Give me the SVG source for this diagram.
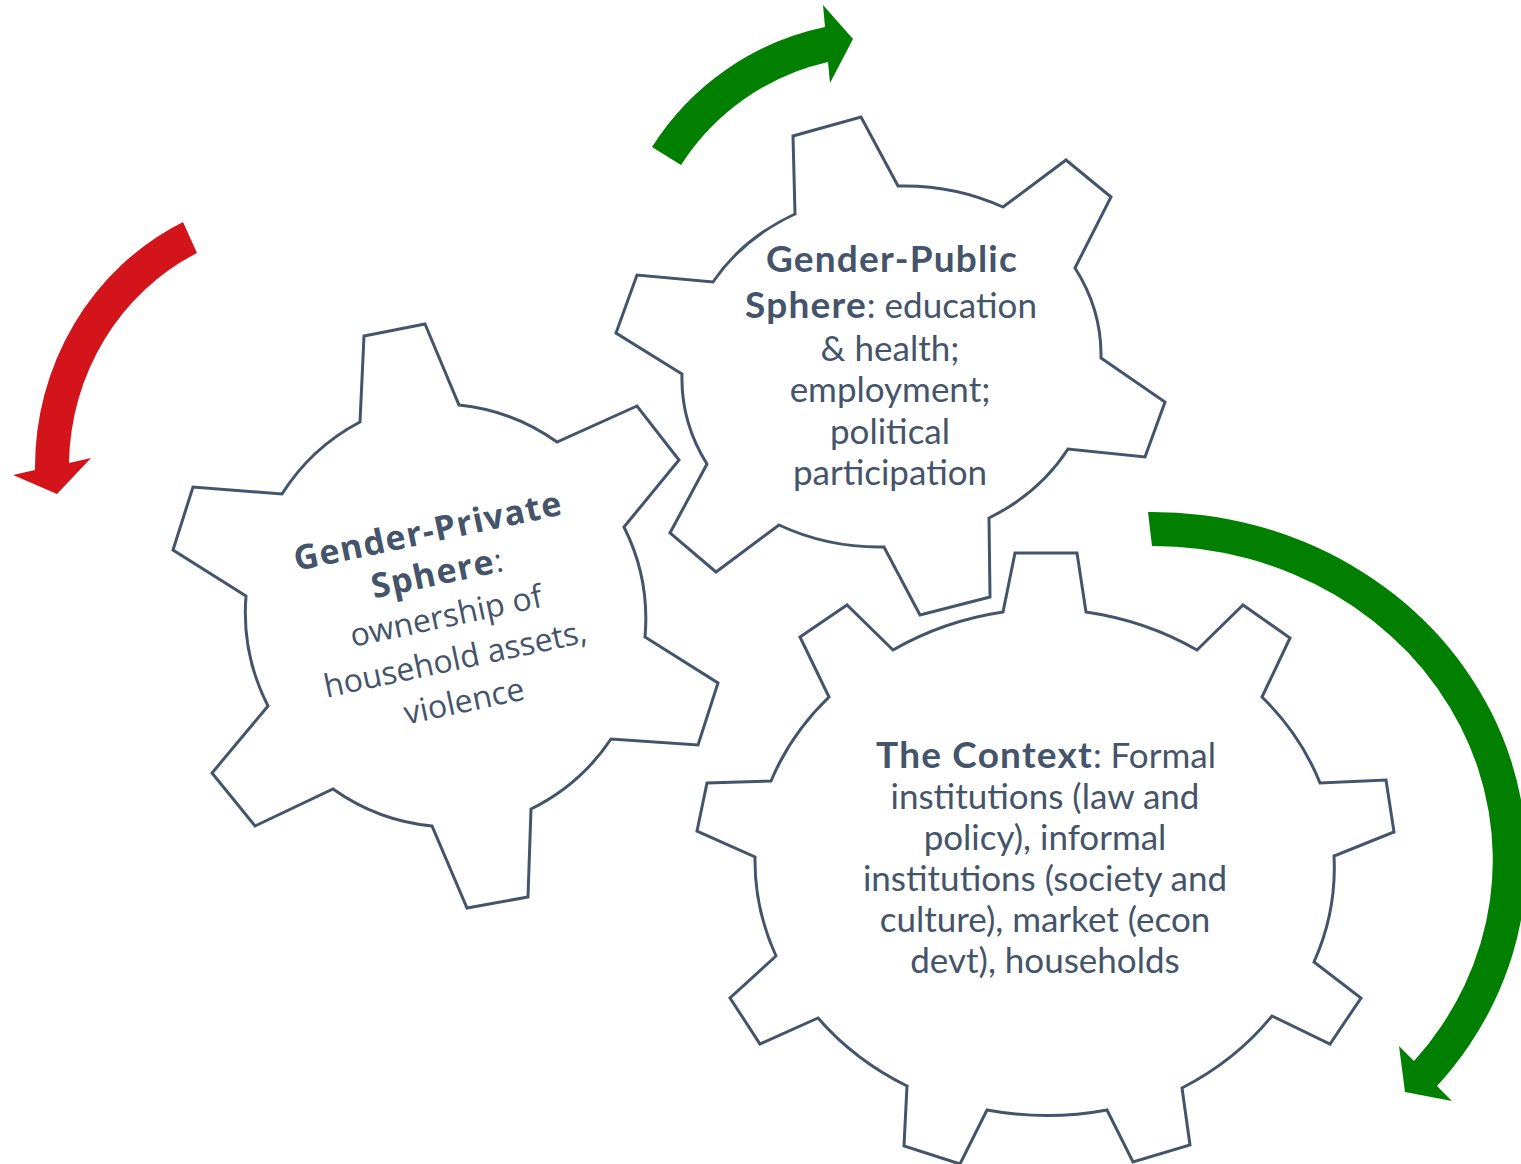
<svg xmlns="http://www.w3.org/2000/svg" width="1521" height="1164" viewBox="0 0 1521 1164">
  <style>
    .gear { fill: #ffffff; stroke: #44546A; stroke-width: 3; stroke-linejoin: miter; }
    .lbl { fill: #44546A; text-anchor: middle; }
    .cal { font-family: Lato, "Open Sans", "Liberation Sans", sans-serif; font-size: 35px; }
    .cal .b { font-weight: bold; font-size: 37px; letter-spacing: 1.2px; }
    .seg { font-family: "Open Sans", "Noto Sans", "Liberation Sans", sans-serif; font-size: 32px; }
    .seg .b { font-weight: bold; font-size: 34px; letter-spacing: 1.2px; }
    .red { fill: #D3151B; }
    .green { fill: #007F00; }
  </style>

  <!-- rotation arrows -->
  <g id="connectors">
    <path class="red" d="M 183,222 A 262 272 0 0 0 35,470 L 13,475 L 57,494 L 91,458 L 69,463 A 228 238 0 0 1 197,253 Z"/>
    <path class="green" d="M 652,147 A 270 270 0 0 1 825,27 L 823,5 L 853,39 L 830,83 L 828,62 A 236 236 0 0 0 681,165 Z"/>
    <path class="green" d="M 1148,512 A 374 348 0 0 1 1437,1086 L 1452,1101 L 1405,1092 L 1399,1046 L 1414,1061 A 340 314 0 0 0 1152,546 Z"/>
  </g>

  <!-- six-tooth gear, private sphere -->
  <g id="gear-private">
    <path class="gear" d="M 360,422 L 364,336 L 425,324 L 459,405 A 205 205 0 0 1 557,442 L 637,406 L 679,460 L 624,527 A 205 205 0 0 1 645,637 L 718,683 L 698,745 L 611,739 A 205 205 0 0 1 531,809 L 528,897 L 467,908 L 432,826 A 205 205 0 0 1 333,789 L 255,826 L 212,773 L 268,706 A 205 205 0 0 1 246,596 L 173,550 L 193,487 L 282,494 A 205 205 0 0 1 360,422 Z"/>
    <g class="lbl seg" transform="translate(446,616) rotate(-12)">
      <text x="0" y="-75"><tspan class="b">Gender-Private</tspan></text>
      <text x="0" y="-32"><tspan class="b">Sphere</tspan>:</text>
      <text x="0" y="11">ownership of</text>
      <text x="0" y="55">household assets,</text>
      <text x="0" y="98">violence</text>
    </g>
  </g>

  <!-- six-tooth gear, public sphere -->
  <g id="gear-public">
    <path class="gear" d="M 795,214 L 793,136 L 861,117 L 898,186 A 211 181 0 0 1 1003,207 L 1066,160 L 1111,197 L 1075,268 A 211 181 0 0 1 1101,358 L 1165,402 L 1145,457 L 1068,449 A 211 181 0 0 1 989,518 L 990,597 L 920,615 L 884,547 A 211 181 0 0 1 779,525 L 716,572 L 670,533 L 707,464 A 211 181 0 0 1 682,374 L 616,333 L 637,275 L 713,282 A 211 181 0 0 1 795,214 Z"/>
    <g class="lbl cal">
      <text x="892" y="272"><tspan class="b">Gender-Public</tspan></text>
      <text x="891" y="318"><tspan class="b">Sphere</tspan>: education</text>
      <text x="890" y="361">&amp; health;</text>
      <text x="890" y="402">employment;</text>
      <text x="890" y="444">political</text>
      <text x="890" y="485">participation</text>
    </g>
  </g>

  <!-- nine-tooth gear, context -->
  <g id="gear-context">
    <path class="gear" d="M 1003,612 L 1015,553 L 1077,553 L 1086,612 A 290 256 0 0 1 1197,650 L 1243,605 L 1290,638 L 1262,697 A 290 256 0 0 1 1320,783 L 1386,780 L 1394,832 L 1334,856 A 290 256 0 0 1 1314,962 L 1361,998 L 1330,1044 L 1272,1016 A 290 256 0 0 1 1182,1088 L 1190,1145 L 1133,1162 L 1107,1110 A 290 256 0 0 1 987,1110 L 960,1164 L 904,1146 L 907,1086 A 290 256 0 0 1 818,1018 L 760,1044 L 730,998 L 776,956 A 290 256 0 0 1 755,857 L 697,831 L 707,783 L 771,781 A 290 256 0 0 1 829,697 L 800,637 L 847,605 L 893,650 A 290 256 0 0 1 1003,612 Z"/>
    <g class="lbl cal">
      <text x="1046" y="768"><tspan class="b">The Context</tspan>: Formal</text>
      <text x="1045" y="809">institutions (law and</text>
      <text x="1045" y="850">policy), informal</text>
      <text x="1045" y="891">institutions (society and</text>
      <text x="1045" y="932">culture), market (econ</text>
      <text x="1045" y="973">devt), households</text>
    </g>
  </g>
</svg>
